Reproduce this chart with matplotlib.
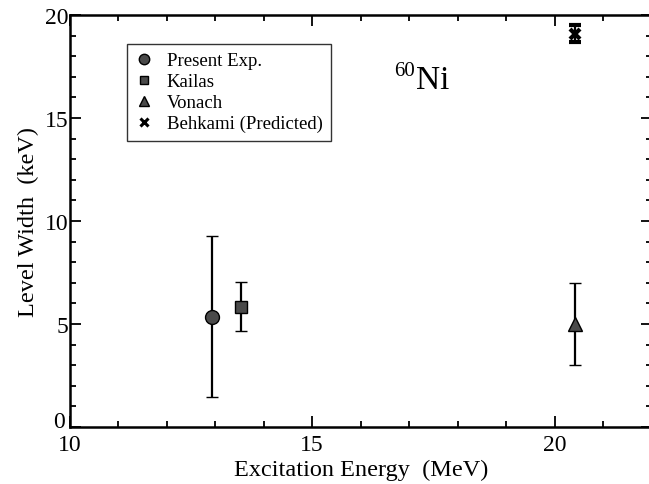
import matplotlib
matplotlib.use("Agg")
import matplotlib.pyplot as plt
from matplotlib.lines import Line2D
from matplotlib.ticker import MultipleLocator, FuncFormatter

plt.rcParams['font.family'] = ['Liberation Serif', 'DejaVu Serif']

# уровни 60Ni: энергия возбуждения (МэВ), ширина (кэВ), ошибка
labels = ["Present Exp.", "Kailas", "Vonach", "Behkami (Predicted)"]
markers = ["o", "s", "^", "x"]
energy = [12.93, 13.54, 20.41, 20.41]
width = [5.35, 5.84, 5.0, 19.1]
width_err = [3.9, 1.2, 2.0, 0.4]
msizes = [10, 8, 10, 7]

fig = plt.figure(figsize=(6.49, 4.85), dpi=100)
ax = fig.add_axes([69.5 / 649, 57 / 485, 582.5 / 649, 412 / 485])

handles = []
for lab, m, x, y, e, ms in zip(labels, markers, energy, width, width_err, msizes):
    mew = 3.0 if m == "x" else 1.0
    ax.errorbar(x, y, yerr=e, fmt=m, color="black", mfc="#4a4a4a", mec="black",
                ms=ms, mew=mew, elinewidth=1.6, capsize=4.5, capthick=1.6)
    handles.append(Line2D([], [], ls="none", marker=m, mfc="#4a4a4a", mec="black",
                          ms=ms * 0.75, mew=2.2 if m == "x" else 1.0, label=lab))

ax.set_xlim(10, 22)
ax.set_ylim(0, 20)
ax.xaxis.set_major_locator(MultipleLocator(5))
ax.xaxis.set_minor_locator(MultipleLocator(1))
ax.yaxis.set_major_locator(MultipleLocator(5))
ax.yaxis.set_minor_locator(MultipleLocator(1))
# "0" на оси Y ставим отдельно, чуть выше, чтобы не налезал на "10"
ax.yaxis.set_major_formatter(FuncFormatter(lambda v, p: "" if v == 0 else f"{v:g}"))
ax.annotate("0", xy=(0, 0), xycoords="axes fraction", xytext=(-3, 4),
            textcoords="offset points", ha="right", va="center", fontsize=17)
ax.tick_params(which="both", direction="in", top=True, right=True, width=1.3,
               labelsize=17)
ax.tick_params(axis="x", pad=5)
ax.tick_params(axis="y", pad=1)
ax.tick_params(which="major", length=8)
ax.tick_params(which="minor", length=4)
for sp in ax.spines.values():
    sp.set_linewidth(1.8)

ax.set_xlabel("Excitation Energy  (MeV)", fontsize=17.5, labelpad=3)
ax.set_ylabel("Level Width  (keV)", fontsize=17.5, labelpad=4)

ax.text(16.68, 17.1, "60", fontsize=15)
ax.text(17.14, 16.44, "Ni", fontsize=24)

leg = ax.legend(handles=handles, loc="upper left", bbox_to_anchor=(0.098, 0.93),
                borderaxespad=0, fontsize=13.5, frameon=True, fancybox=False,
                edgecolor="black", handlelength=1.0, handletextpad=0.7,
                labelspacing=0.2, borderpad=0.45)
leg.get_frame().set_linewidth(1.0)

fig.savefig("out.png", dpi=100)
